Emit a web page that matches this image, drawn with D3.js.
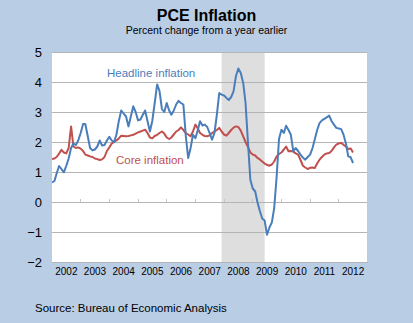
<!DOCTYPE html>
<html><head><meta charset="utf-8">
<script src="https://cdn.jsdelivr.net/npm/d3@7"></script>
<style>
html,body{margin:0;padding:0;background:#b9cde5;}
svg{display:block;font-family:Arial,"Liberation Sans",sans-serif;}
</style></head>
<body>
<svg id="chart" width="413" height="323"></svg>
<script>
// Monthly data, Jan 2002 onward
const startYear = 2002;
const headline = [0.65,0.70,0.95,1.20,1.10,0.99,1.20,1.45,1.80,1.95,1.90,2.05,
2.30,2.60,2.60,2.20,1.80,1.72,1.75,1.85,2.05,1.88,1.90,2.05,
2.17,2.05,1.99,2.25,2.70,3.05,2.95,2.85,2.52,2.85,3.19,3.00,
2.72,2.75,2.90,3.05,2.70,2.35,2.70,3.30,3.92,3.70,3.10,3.00,
3.30,3.05,2.91,3.05,3.25,3.37,3.30,3.25,2.20,1.47,1.80,2.24,
2.13,2.40,2.69,2.55,2.58,2.50,2.30,2.08,2.30,2.90,3.63,3.58,
3.55,3.47,3.40,3.50,3.69,4.20,4.45,4.30,3.97,3.30,1.97,0.74,
0.45,0.35,0.00,-0.30,-0.55,-0.62,-1.09,-0.85,-0.68,-0.20,0.85,2.10,
2.41,2.30,2.54,2.40,2.24,1.69,1.80,1.70,1.58,1.48,1.41,1.50,
1.58,1.80,2.08,2.40,2.63,2.72,2.77,2.82,2.88,2.70,2.58,2.47,
2.45,2.43,2.25,1.95,1.52,1.49,1.30];
const core = [1.43,1.45,1.50,1.61,1.74,1.65,1.62,1.80,2.52,1.85,1.80,1.82,
1.78,1.70,1.58,1.55,1.52,1.50,1.45,1.43,1.40,1.42,1.50,1.70,
1.82,1.95,2.00,2.05,2.12,2.21,2.20,2.19,2.20,2.22,2.24,2.28,
2.32,2.35,2.38,2.41,2.30,2.15,2.12,2.20,2.24,2.30,2.35,2.28,
2.15,2.10,2.15,2.25,2.35,2.40,2.49,2.40,2.30,2.25,2.19,2.35,
2.58,2.45,2.30,2.24,2.20,2.19,2.22,2.30,2.35,2.40,2.47,2.35,
2.25,2.21,2.30,2.40,2.48,2.52,2.50,2.38,2.19,2.00,1.83,1.65,
1.58,1.55,1.47,1.42,1.35,1.28,1.24,1.21,1.25,1.35,1.52,1.60,
1.65,1.75,1.85,1.69,1.70,1.68,1.62,1.58,1.40,1.21,1.15,1.10,
1.14,1.15,1.13,1.28,1.41,1.50,1.58,1.62,1.63,1.70,1.82,1.91,
1.95,1.97,1.91,1.85,1.77,1.78,1.65];
const yearLabels = ["2002","2003","2004","2005","2006","2007","2008","2009","2010","2011","2012"];
const yTicks = [5,4,3,2,1,0,-1,-2];
const recession = [new Date(2007,11,1), new Date(2009,5,1)];

const svg = d3.select("#chart");
const L = 52, R = 367.5, T = 52, B = 262;

const x = d3.scaleTime().domain([new Date(2002,0,1), new Date(2013,0,1)]).range([L,R]);
const y = d3.scaleLinear().domain([-2,5]).range([B,T]);
const dateOf = i => new Date(startYear, i, 1);

// title
svg.append("text").attr("x",206.5).attr("y",21).attr("text-anchor","middle")
  .attr("font-size",16).attr("font-weight","bold").attr("fill","#000").text("PCE Inflation");
svg.append("text").attr("x",206.5).attr("y",33.5).attr("text-anchor","middle")
  .attr("font-size",10.5).attr("fill","#000").text("Percent change from a year earlier");

// plot background
svg.append("rect").attr("x",L).attr("y",T).attr("width",R-L).attr("height",B-T).attr("fill","#fff");

// recession
svg.append("rect").attr("x",x(recession[0])).attr("y",T)
  .attr("width",x(recession[1])-x(recession[0])).attr("height",B-T).attr("fill","#dedede");

// gridlines
svg.append("g").selectAll("line").data(yTicks).join("line")
  .attr("x1",L).attr("x2",R).attr("y1",d=>y(d)).attr("y2",d=>y(d))
  .attr("stroke","#b4b4b4").attr("stroke-width",1).attr("shape-rendering","crispEdges");
// right border
svg.append("line").attr("x1",R).attr("x2",R).attr("y1",T).attr("y2",B)
  .attr("stroke","#c8c8c8").attr("shape-rendering","crispEdges");

// y axis labels
const yAxis = d3.axisLeft(y).tickValues(yTicks).tickSize(0).tickPadding(10).tickFormat(d3.format("d"));
const ya = svg.append("g").attr("transform",`translate(${L},0)`).call(yAxis);
ya.select(".domain").remove();
ya.selectAll("text").attr("font-size",13).attr("fill","#000").attr("font-family","Arial,'Liberation Sans',sans-serif");

// year tick marks on the zero line
const yearTicks = d3.range(2003,2013).map(yr=>new Date(yr,0,1));
svg.append("g").selectAll("line").data(yearTicks).join("line")
  .attr("x1",d=>x(d)).attr("x2",d=>x(d)).attr("y1",y(0)-3).attr("y2",y(0))
  .attr("stroke","#c8c8c8").attr("shape-rendering","crispEdges");

// x labels centred in year
svg.append("g").selectAll("text").data(yearLabels).join("text")
  .attr("x",d=>(x(new Date(+d,0,1))+x(new Date(+d+1,0,1)))/2)
  .attr("y",275).attr("text-anchor","middle").attr("font-size",10).attr("fill","#000")
  .text(d=>d);

// lines
const line = d3.line().x((d,i)=>x(dateOf(i))).y(d=>y(d));
svg.append("path").datum(core).attr("d",line).attr("fill","none")
  .attr("stroke","#c0504d").attr("stroke-width",2).attr("stroke-linejoin","round");
svg.append("path").datum(headline).attr("d",line).attr("fill","none")
  .attr("stroke","#4a7ebb").attr("stroke-width",2).attr("stroke-linejoin","round");

// series labels
svg.append("text").attr("x",107).attr("y",76.5).attr("font-size",11.5).attr("fill","#4a7ebb").text("Headline inflation");
svg.append("text").attr("x",116).attr("y",164).attr("font-size",11.5).attr("fill","#c0504d").text("Core inflation");

// source
svg.append("text").attr("x",35).attr("y",312).attr("font-size",11.5).attr("fill","#000").text("Source: Bureau of Economic Analysis");
</script>
</body></html>
